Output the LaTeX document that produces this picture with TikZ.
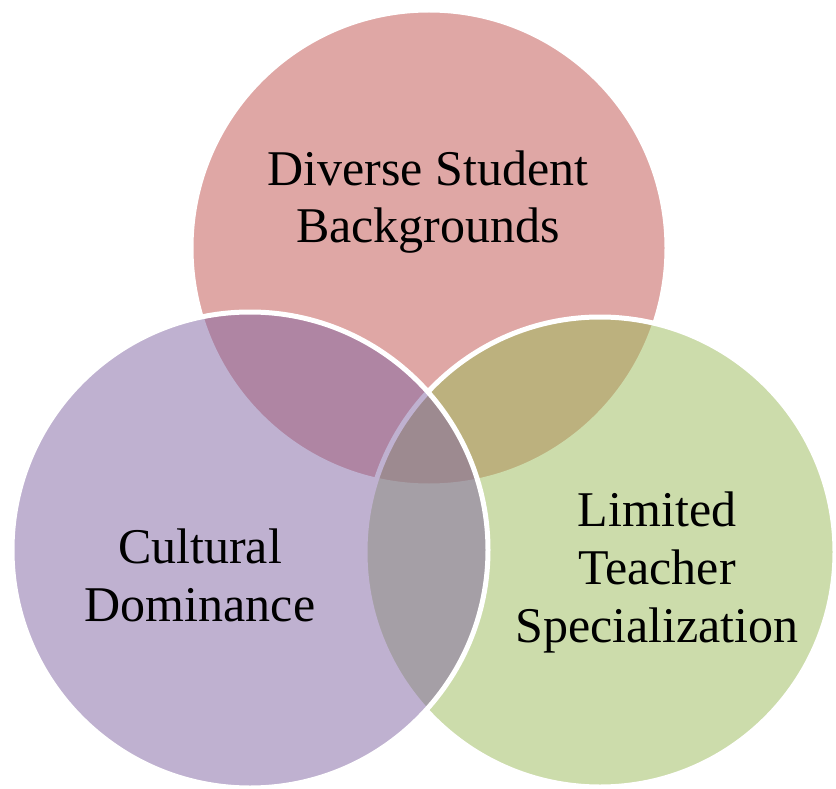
\documentclass[tikz,border=0pt]{standalone}
\usepackage{fontspec}
\setmainfont{Liberation Serif}
\definecolor{cpink}{HTML}{C0504D}
\definecolor{cgreen}{HTML}{9BBB59}
\definecolor{cpurple}{HTML}{8064A2}
\tikzset{
  venn/.style={fill opacity=0.5, draw=white, line width=5pt},
  lbl/.style={align=center, inner sep=0pt, anchor=base, text=black, font=\fontsize{50}{58}\selectfont}
}
\begin{document}
\begin{tikzpicture}[x=1pt,y=-1pt]
\useasboundingbox (0,0) rectangle (836,789);
\fill[white] (0,0) rectangle (836,789);
\draw[venn, fill=cpink] (429,248) circle[radius=238];
\draw[venn, fill=cgreen] (600,552) circle[radius=235];
\draw[venn, fill=cpurple] (250,550) circle[radius=238];
\node[lbl] (top) at (428,243) {Diverse Student\\Backgrounds};
\node[lbl] (left) at (200,621) {Cultural\\Dominance};
\node[lbl] (right) at (657,642) {Limited\\Teacher\\Specialization};
\end{tikzpicture}
\end{document}
